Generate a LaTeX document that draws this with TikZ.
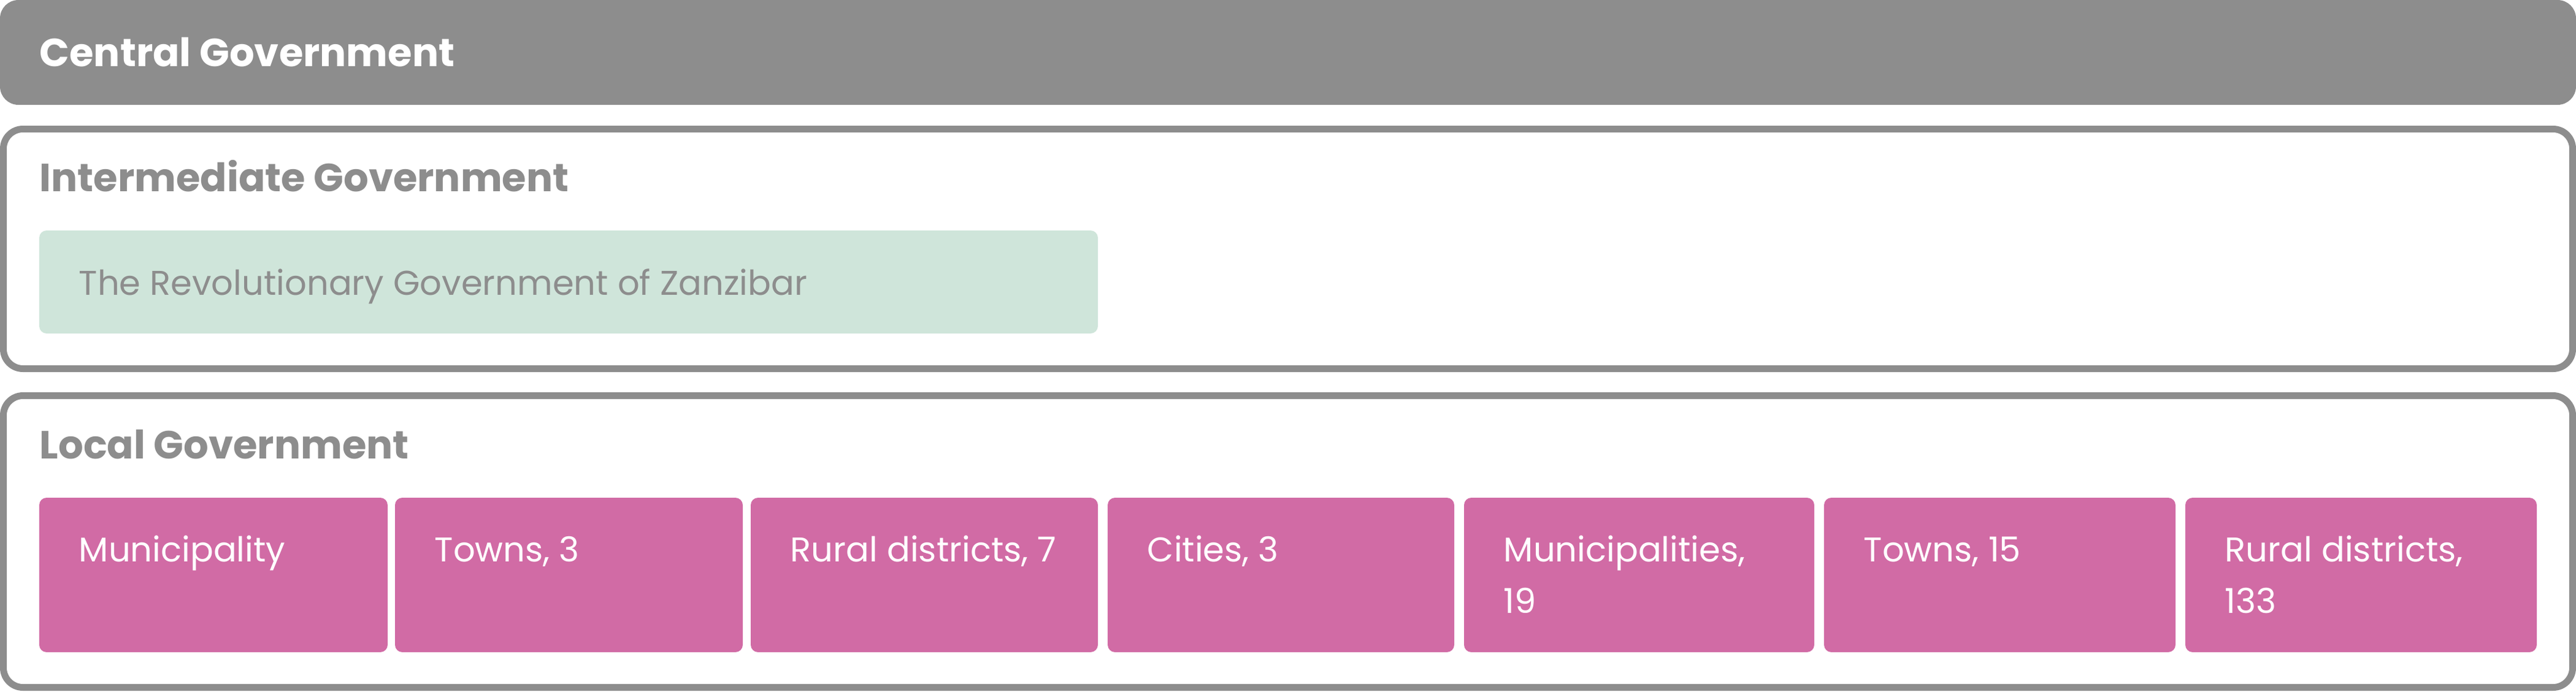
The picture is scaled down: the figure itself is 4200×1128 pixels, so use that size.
\documentclass[tikz,border=0pt]{standalone}
\usepackage{fontspec}
\setmainfont{Poppins}
\definecolor{govgray}{HTML}{8D8D8D}
\definecolor{govpink}{HTML}{D16BA5}
\definecolor{govgreen}{HTML}{CFE5DA}
\begin{document}
\begin{tikzpicture}[x=0.25pt,y=-0.25pt,
  heading/.style={anchor=base west,inner sep=0pt,font=\fontsize{16}{20}\selectfont\bfseries},
  levelbox/.style={draw=govgray,line width=2.75pt,rounded corners=8pt,fill=white},
  pinkbox/.style={fill=govpink,rounded corners=3pt},
  pinktext/.style={anchor=base west,inner sep=0pt,text=white,font=\fontsize{14}{21}\selectfont},
  greentext/.style={anchor=base west,inner sep=0pt,text=govgray,font=\fontsize{14}{21}\selectfont}]
\useasboundingbox (0,0) rectangle (4200,1128);
% central
\fill[govgray,rounded corners=7.5pt] (0,0) rectangle (4200,171);
\node[heading,text=white] (central) at (64,108) {Central Government};
% intermediate
\draw[levelbox] (5.5,210.5) rectangle (4194.5,601.5);
\node[heading,text=govgray] (inter) at (64,312) {Intermediate Government};
\fill[govgreen,rounded corners=3pt] (64,376) rectangle (1790,544);
\node[greentext] (zanzibar) at (128,481) {The Revolutionary Government of Zanzibar};
% local
\draw[levelbox] (5.5,645.5) rectangle (4194.5,1121.5);
\node[heading,text=govgray] (local) at (64,748) {Local Government};
\fill[pinkbox] (64,812) rectangle (632,1064);
\fill[pinkbox] (644,812) rectangle (1211,1064);
\fill[pinkbox] (1224,812) rectangle (1790,1064);
\fill[pinkbox] (1806,812) rectangle (2371,1064);
\fill[pinkbox] (2387,812) rectangle (2958,1064);
\fill[pinkbox] (2974,812) rectangle (3547,1064);
\fill[pinkbox] (3563,812) rectangle (4136,1064);
\node[pinktext] (p1) at (128,916) {Municipality};
\node[pinktext] (p2) at (708,916) {Towns, 3};
\node[pinktext] (p3) at (1288,916) {Rural districts, 7};
\node[pinktext] (p4) at (1870,916) {Cities, 3};
\node[pinktext] (p5) at (2451,916) {\parbox[t]{120pt}{\raggedright Municipalities,\\19}};
\node[pinktext] (p6) at (3038,916) {Towns, 15};
\node[pinktext] (p7) at (3627,916) {\parbox[t]{120pt}{\raggedright Rural districts,\\133}};
\end{tikzpicture}
\end{document}
